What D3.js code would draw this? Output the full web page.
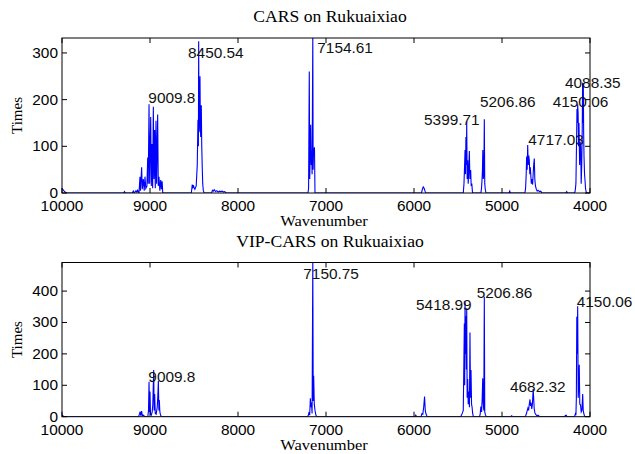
<!DOCTYPE html>
<html>
<head>
<meta charset="utf-8">
<script src="https://cdn.jsdelivr.net/npm/d3@7/dist/d3.min.js"></script>
<style>
  body { margin: 0; background: #fff; }
  svg { display: block; }
</style>
</head>
<body>
<svg id="chart" width="635" height="454"></svg>
<script>
// ---- data ----
const wavenumberTicks = [10000, 9000, 8000, 7000, 6000, 5000, 4000];
const carsTimesTicks = [0, 100, 200, 300];
const vipTimesTicks = [0, 100, 200, 300, 400];

// CARS selection counts (wavenumber, times)
const carsWave = [10000, 9992, 9980, 9965, 9950, 9300, 9290, 9280, 9200, 9190, 9180, 9160, 9150, 9140, 9130,
  9125, 9114, 9108, 9095, 9088, 9076, 9066, 9057, 9048, 9035, 9026, 9020, 9011, 9004, 8992, 8985, 8977, 8970,
  8962, 8955, 8947, 8940, 8932, 8925, 8913, 8906, 8898, 8888, 8878, 8870, 8862, 8855,
  8530, 8520, 8514, 8507, 8500, 8490, 8475, 8463, 8455, 8450, 8447, 8443, 8440, 8436, 8432, 8428, 8424, 8417,
  8412, 8407, 8401, 8394, 8385, 8300, 8290, 8280, 8270, 8255, 8240, 8225, 8210, 8195, 8180, 8165, 8150, 8135,
  7205, 7198, 7190, 7185, 7180, 7174, 7168, 7163, 7158, 7150, 7146, 7141, 7136, 7131, 7125,
  5915, 5905, 5895, 5885, 5875, 5865,
  5440, 5432, 5425, 5420, 5415, 5410, 5405, 5401, 5396, 5390, 5384, 5378, 5371, 5365, 5356, 5350, 5343, 5335,
  5240, 5233, 5228, 5222, 5218, 5212, 5206, 5201, 5196, 5190, 5182,
  4920, 4912, 4905,
  4740, 4732, 4725, 4720, 4714, 4708, 4702, 4696, 4690, 4684, 4678, 4674, 4667, 4660, 4652, 4646, 4640, 4633,
  4627, 4620, 4610, 4600, 4590, 4575, 4560, 4545,
  4275, 4265, 4255,
  4175, 4168, 4160, 4152, 4148, 4144, 4140, 4135, 4130, 4125, 4118, 4112, 4106, 4100, 4094, 4088, 4084, 4080,
  4076, 4072, 4068, 4062, 4057, 4050, 4040, 4000];
const carsTimes = [10, 8, 5, 2, 0, 0, 3, 0, 0, 4, 0, 5, 2, 6, 0,
  0, 35, 5, 55, 8, 30, 5, 35, 10, 15, 76, 20, 190, 20, 163, 15, 105, 10,
  185, 30, 135, 10, 155, 20, 168, 15, 35, 5, 28, 8, 25, 0,
  0, 18, 10, 17, 12, 8, 15, 60, 157, 100, 325, 130, 135, 200, 250, 150, 120, 188,
  100, 60, 20, 5, 0, 0, 6, 4, 7, 3, 5, 2, 4, 3, 4, 2, 3, 0,
  0, 10, 260, 30, 82, 146, 60, 90, 40, 340, 50, 96, 80, 98, 0,
  0, 8, 13, 10, 4, 0,
  0, 20, 60, 92, 40, 120, 60, 153, 30, 70, 20, 50, 90, 30, 49, 15, 20, 0,
  0, 10, 25, 50, 92, 30, 40, 158, 20, 8, 0,
  0, 4, 0,
  0, 10, 40, 78, 50, 103, 60, 80, 71, 40, 55, 42, 20, 30, 18, 40, 60, 74,
  30, 15, 8, 4, 6, 3, 4, 0,
  0, 3, 0,
  0, 5, 20, 120, 180, 150, 190, 170, 100, 150, 60, 110, 99, 20, 60, 140, 236, 150,
  235, 128, 78, 40, 28, 8, 0, 0];

// VIP-CARS selection counts (wavenumber, times)
const vipWave = [10000, 9990, 9980,
  9130, 9120, 9112, 9105, 9095, 9088, 9075, 9060, 9025, 9017, 9011, 9006, 9000, 8994, 8985, 8975, 8968, 8958,
  8953, 8947, 8940, 8930, 8918, 8912, 8905, 8899, 8894, 8888, 8880, 8870,
  7210, 7200, 7192, 7185, 7178, 7172, 7165, 7158, 7150, 7145, 7140, 7133, 7125, 7115, 7105,
  5990, 5980, 5970, 5920, 5910, 5900, 5890, 5880, 5872, 5865, 5855, 5845,
  5470, 5460, 5450, 5440, 5433, 5428, 5424, 5420, 5415, 5410, 5405, 5401, 5396, 5390, 5384, 5376, 5370, 5364,
  5358, 5352, 5346, 5340, 5333, 5325,
  5255, 5248, 5240, 5232, 5225, 5219, 5213, 5207, 5201, 5196, 5190, 5180,
  4900, 4890, 4880,
  4740, 4730, 4722, 4715, 4706, 4698, 4690, 4682, 4676, 4670, 4662, 4654, 4646, 4640, 4634, 4626, 4618, 4610,
  4600, 4590, 4580, 4570,
  4290, 4280, 4270, 4262,
  4180, 4172, 4165, 4160, 4155, 4150, 4145, 4140, 4134, 4128, 4122, 4116, 4108, 4100, 4092, 4083, 4077, 4070,
  4060, 4000];
const vipTimes = [5, 3, 0,
  0, 8, 16, 3, 18, 4, 5, 0, 0, 20, 111, 15, 80, 8, 5, 15, 40, 149,
  20, 72, 10, 8, 30, 60, 114, 20, 53, 15, 5, 0,
  0, 5, 15, 5, 59, 30, 45, 10, 500, 50, 130, 40, 20, 5, 0,
  0, 5, 0, 0, 10, 8, 30, 64, 20, 10, 3, 0,
  0, 5, 12, 20, 180, 297, 100, 366, 200, 320, 150, 345, 60, 120, 40, 80, 30, 268,
  60, 149, 40, 30, 10, 0,
  0, 8, 32, 15, 60, 122, 40, 20, 382, 15, 8, 0,
  0, 3, 0,
  0, 4, 10, 18, 27, 20, 40, 55, 34, 45, 25, 40, 88, 60, 25, 12, 8, 5,
  3, 5, 2, 0,
  0, 4, 5, 0,
  0, 4, 10, 5, 60, 318, 200, 352, 60, 100, 165, 40, 38, 15, 20, 72, 20, 10,
  0, 0];

// peak annotations: text, wavenumber and times where the label sits
const carsLabels = ["9009.8", "8450.54", "7154.61", "5399.71", "5206.86", "4717.03", "4150.06", "4088.35"];
const carsLabelWave = [9019, 8568, 7099, 5886, 5250, 4701, 4424, 4284];
const carsLabelTimes = [203, 299, 310, 156, 194, 113, 194, 235];

const vipLabels = ["9009.8", "7150.75", "5418.99", "5206.86", "4682.32", "4150.06"];
const vipLabelWave = [9019, 7258, 5977, 5288, 4909, 4151];
const vipLabelTimes = [127, 453, 356, 395, 96, 366];

// ---- drawing ----
const svg = d3.select('#chart');
const SX = 1.1; // the reference text is a little wider than it is tall

function stretchedText(g, x, y, str) {
    return g.append('text')
        .attr('transform', `translate(${x},${y}) scale(${SX},1)`)
        .text(str);
}

function drawPanel(opts) {
    const { top, bottom, yMax, yTicks, wave, times, labels, labelWave, labelTimes, title, clipId } = opts;
    const left = 62, right = 590;

    const x = d3.scaleLinear().domain([10000, 4000]).range([left, right]);
    const y = d3.scaleLinear().domain([0, yMax]).range([bottom, top]);

    const g = svg.append('g');

    g.append('clipPath').attr('id', clipId)
        .append('rect')
        .attr('x', left).attr('y', top)
        .attr('width', right - left).attr('height', bottom - top);

    // series
    const pts = wave.map((w, i) => [w, times[i]]);
    const line = d3.line().x(d => x(d[0])).y(d => y(d[1]));
    g.append('path')
        .datum(pts)
        .attr('clip-path', `url(#${clipId})`)
        .attr('fill', 'none')
        .attr('stroke', '#0000ff')
        .attr('stroke-width', 1.1)
        .attr('d', line);

    // box
    g.append('rect')
        .attr('x', left).attr('y', top)
        .attr('width', right - left).attr('height', bottom - top)
        .attr('fill', 'none').attr('stroke', '#000').attr('stroke-width', 1);

    // ticks, inside, on all four sides
    const tickLen = 5;
    wavenumberTicks.forEach(t => {
        g.append('line').attr('x1', x(t)).attr('x2', x(t)).attr('y1', bottom).attr('y2', bottom - tickLen)
            .attr('stroke', '#000');
        g.append('line').attr('x1', x(t)).attr('x2', x(t)).attr('y1', top).attr('y2', top + tickLen)
            .attr('stroke', '#000');
    });
    yTicks.forEach(t => {
        g.append('line').attr('x1', left).attr('x2', left + tickLen).attr('y1', y(t)).attr('y2', y(t))
            .attr('stroke', '#000');
        g.append('line').attr('x1', right).attr('x2', right - tickLen).attr('y1', y(t)).attr('y2', y(t))
            .attr('stroke', '#000');
    });

    // tick labels
    const tickFont = g.append('g')
        .attr('font-family', 'Liberation Sans, Arial, sans-serif')
        .attr('font-size', 14).attr('fill', '#000');
    wavenumberTicks.forEach(t => {
        stretchedText(tickFont, x(t), bottom + 18, t).attr('text-anchor', 'middle');
    });
    yTicks.forEach(t => {
        stretchedText(tickFont, left - 4, y(t) + 5, t).attr('text-anchor', 'end');
    });

    // peak labels
    const labFont = g.append('g')
        .attr('font-family', 'Liberation Sans, Arial, sans-serif')
        .attr('font-size', 14).attr('fill', '#111');
    labels.forEach((s, i) => {
        stretchedText(labFont, x(labelWave[i]), y(labelTimes[i]) + 5, s).attr('text-anchor', 'start');
    });

    // titles
    const serif = g.append('g')
        .attr('font-family', 'Liberation Serif, Times New Roman, serif')
        .attr('fill', '#000');
    stretchedText(serif, (left + right) / 2 + 4, top - 16, title)
        .attr('text-anchor', 'middle').attr('font-size', 16);
    stretchedText(serif, (left + right) / 2 - 2, bottom + 33, 'Wavenumber')
        .attr('text-anchor', 'middle').attr('font-size', 15);
    serif.append('text')
        .attr('transform', `translate(22,${(top + bottom) / 2}) rotate(-90)`)
        .attr('text-anchor', 'middle')
        .attr('font-size', 15)
        .text('Times');
}

drawPanel({
    top: 38, bottom: 193, yMax: 332, yTicks: carsTimesTicks,
    wave: carsWave, times: carsTimes,
    labels: carsLabels, labelWave: carsLabelWave, labelTimes: carsLabelTimes,
    title: 'CARS on Rukuaixiao', clipId: 'clipTop'
});

drawPanel({
    top: 262.5, bottom: 416.7, yMax: 491, yTicks: vipTimesTicks,
    wave: vipWave, times: vipTimes,
    labels: vipLabels, labelWave: vipLabelWave, labelTimes: vipLabelTimes,
    title: 'VIP-CARS on Rukuaixiao', clipId: 'clipBottom'
});
</script>
</body>
</html>
